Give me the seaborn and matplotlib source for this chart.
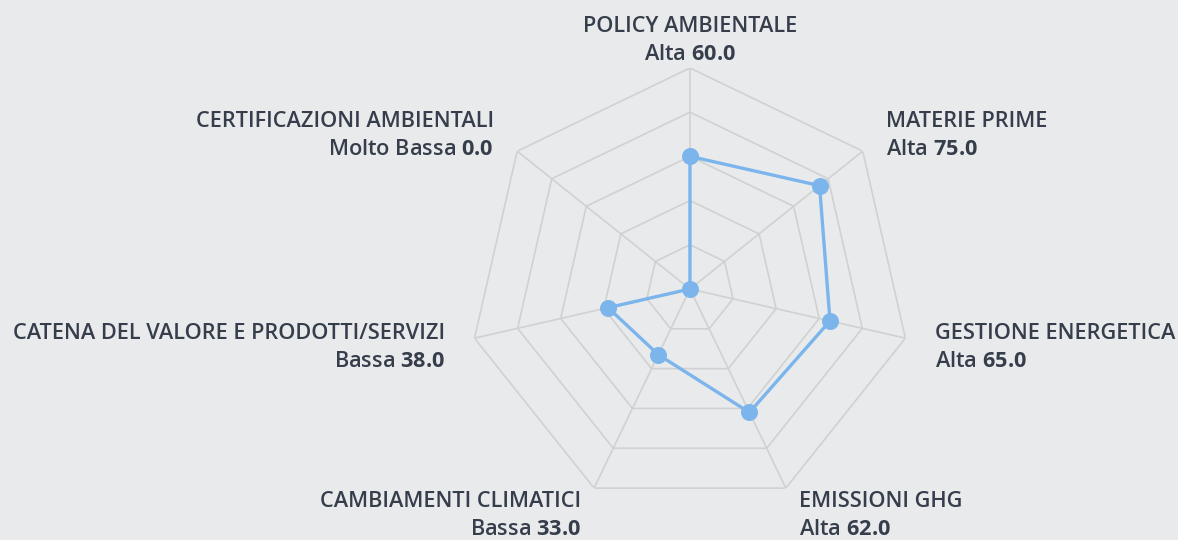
import numpy as np
import pandas as pd
import matplotlib
matplotlib.use("Agg")
import matplotlib.pyplot as plt
import matplotlib.transforms as mtransforms
import seaborn as sns

categories = ["POLICY AMBIENTALE", "MATERIE PRIME", "GESTIONE ENERGETICA", "EMISSIONI GHG",
              "CAMBIAMENTI CLIMATICI", "CATENA DEL VALORE E PRODOTTI/SERVIZI",
              "CERTIFICAZIONI AMBIENTALI"]
levels = ["Alta", "Alta", "Alta", "Alta", "Bassa", "Bassa", "Molto Bassa"]
values = [60.0, 75.0, 65.0, 62.0, 33.0, 38.0, 0.0]
rings = [20, 40, 60, 80, 100]

BG = "#e9eaec"
GRID = "#d1d1d1"
LINE = "#7cb5ec"
TEXT = "#363d4b"

sns.set_theme(style="white")
plt.rcParams["font.family"] = ["Open Sans", "DejaVu Sans"]
plt.rcParams["mathtext.fontset"] = "custom"
plt.rcParams["mathtext.rm"] = "Open Sans:semibold"
plt.rcParams["mathtext.bf"] = "Open Sans:bold"

n = len(categories)
theta = np.arange(n) * 2 * np.pi / n

fig = plt.figure(figsize=(11.78, 5.40), dpi=100, facecolor=BG)
ax = fig.add_axes([0.3981, 0.0556, 0.3752, 0.8185], projection="polar")
ax.set_facecolor("none")
ax.set_theta_offset(np.pi / 2)
ax.set_theta_direction(-1)
ax.set_ylim(0, 100)
ax.grid(False)
ax.spines["polar"].set_visible(False)
ax.set_xticks([])
ax.set_yticks([])

tc = np.append(theta, theta[0])
for r in rings:
    ax.plot(tc, [r] * len(tc), color=GRID, lw=1.2, zorder=1)
for t in theta:
    ax.plot([t, t], [0, rings[-1]], color=GRID, lw=1.2, zorder=1)

df = pd.DataFrame({"theta": np.append(theta, theta[0]),
                   "value": values + values[:1]})
sns.lineplot(data=df, x="theta", y="value", sort=False, color=LINE, lw=2.4,
             ax=ax, zorder=3, estimator=None)
sns.scatterplot(data=df.iloc[:n], x="theta", y="value", color=LINE, s=150,
                linewidth=0, ax=ax, zorder=4, legend=False)
ax.set_xlabel("")
ax.set_ylabel("")
ax.set_ylim(0, 100)

for t, cat, lev, v in zip(theta, categories, levels, values):
    ang = np.pi / 2 - t
    c = np.cos(ang)
    if abs(c) < 1e-6:
        ha = "center"
    elif c > 0:
        ha = "left"
    else:
        ha = "right"
    dy = 0 if np.sin(ang) < -0.5 else -3
    tr = mtransforms.offset_copy(ax.transData, fig=fig, x=0, y=dy, units="dots")
    label = f"{cat}\n{lev} $\\mathbf{{{v:.1f}}}$"
    ax.text(t, 113.6, label, ha=ha, va="center", multialignment=ha,
            fontsize=15.7, fontweight="semibold", color=TEXT, clip_on=False,
            linespacing=1.43, transform=tr)

fig.savefig("out.png", dpi=100, facecolor=BG)
